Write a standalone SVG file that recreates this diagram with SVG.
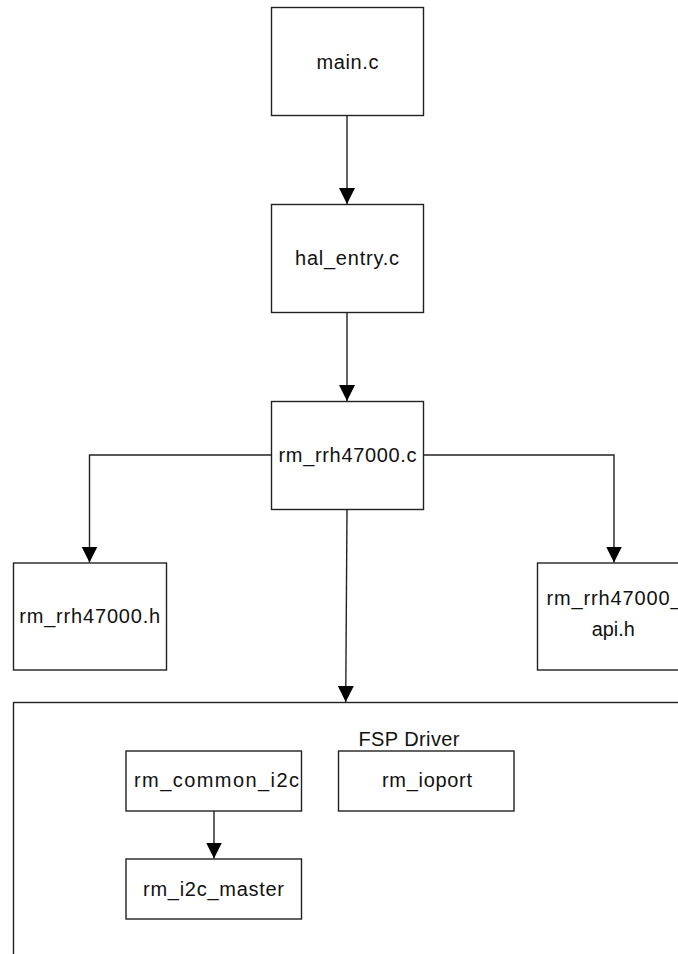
<svg xmlns="http://www.w3.org/2000/svg" width="678" height="954" viewBox="0 0 678 954">
<style>
.box{fill:#fff;stroke:#222;stroke-width:1.4}
.lbl{font-family:"Liberation Sans",Arial,sans-serif;font-size:20px;fill:#111;text-anchor:middle}
.ln{fill:none;stroke:#222;stroke-width:1.4}
</style>
<defs>
<marker id="ah" markerUnits="userSpaceOnUse" markerWidth="17" markerHeight="16" refX="16" refY="8" orient="auto">
<path d="M0,0 L16,8 L0,16 Z" fill="#000"/>
</marker>
</defs>
<rect width="678" height="954" fill="#fff"/>
<g id="fsp-driver">
<rect class="box" x="13.5" y="702.5" width="700" height="300"/>
<text class="lbl" x="409" y="746" textLength="101" lengthAdjust="spacing">FSP Driver</text>
</g>
<g id="main-c">
<rect class="box" x="271.5" y="7.5" width="152" height="108"/>
<text class="lbl" x="347.5" y="69" textLength="62" lengthAdjust="spacing">main.c</text>
</g>
<g id="hal-entry-c">
<rect class="box" x="271.5" y="204.5" width="152" height="108"/>
<text class="lbl" x="347" y="264.5" textLength="104" lengthAdjust="spacing">hal_entry.c</text>
</g>
<g id="rm-rrh47000-c">
<rect class="box" x="271.5" y="401.5" width="152" height="108"/>
<text class="lbl" x="347.5" y="462" textLength="138" lengthAdjust="spacing">rm_rrh47000.c</text>
</g>
<g id="rm-rrh47000-h">
<rect class="box" x="13.5" y="563" width="153" height="107"/>
<text class="lbl" x="89.7" y="623" textLength="141" lengthAdjust="spacing">rm_rrh47000.h</text>
</g>
<g id="rm-rrh47000-api-h">
<rect class="box" x="537.5" y="563" width="160" height="107"/>
<text class="lbl" x="614" y="605" textLength="135" lengthAdjust="spacing">rm_rrh47000_</text>
<text class="lbl" x="613.3" y="635.5" textLength="43" lengthAdjust="spacingAndGlyphs">api.h</text>
</g>
<g id="rm-common-i2c">
<rect class="box" x="126" y="751" width="175.5" height="60"/>
<text class="lbl" x="216.5" y="787" textLength="165" lengthAdjust="spacing">rm_common_i2c</text>
</g>
<g id="rm-ioport">
<rect class="box" x="338.5" y="751" width="175.5" height="60"/>
<text class="lbl" x="427" y="787" textLength="90" lengthAdjust="spacing">rm_ioport</text>
</g>
<g id="rm-i2c-master">
<rect class="box" x="126" y="859" width="175.5" height="60"/>
<text class="lbl" x="213.5" y="896" textLength="141" lengthAdjust="spacing">rm_i2c_master</text>
</g>
<g id="connectors">
<path class="ln" d="M347,115.5 L347,204" marker-end="url(#ah)"/>
<path class="ln" d="M347,312.5 L347,401" marker-end="url(#ah)"/>
<path class="ln" d="M271.5,455 L89.5,455 L89.5,562.5" marker-end="url(#ah)"/>
<path class="ln" d="M423.5,455 L614,455 L614,562.5" marker-end="url(#ah)"/>
<path class="ln" d="M347,509.5 L345.7,702" marker-end="url(#ah)"/>
<path class="ln" d="M214,811 L214,858.5" marker-end="url(#ah)"/>
</g>
</svg>
